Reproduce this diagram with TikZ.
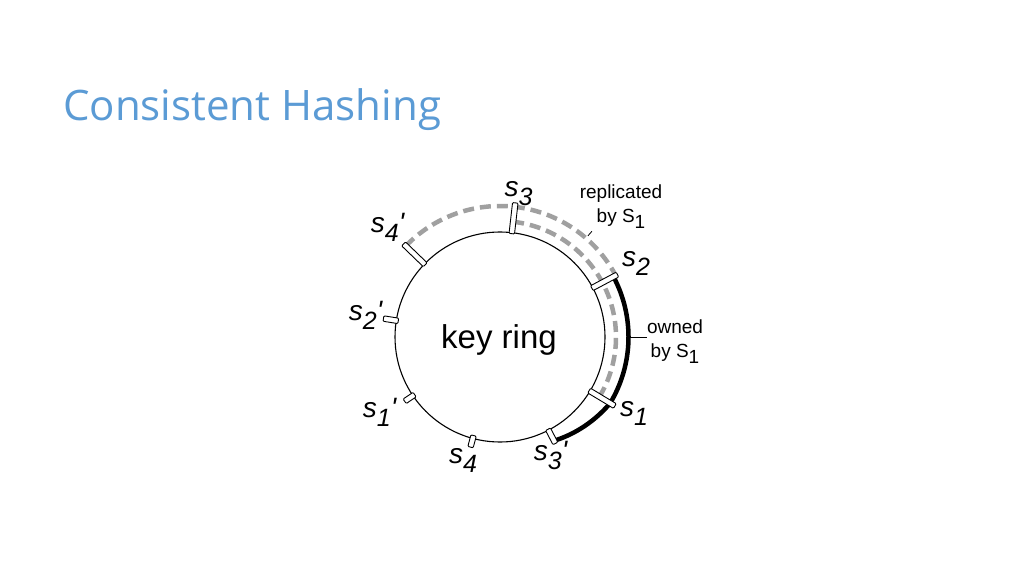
\documentclass[tikz,border=0pt]{standalone}
\usepackage{fontspec}
\setmainfont{Liberation Sans}
\newfontfamily\titlefont{Open Sans}
\usepackage{tikz}
\usetikzlibrary{calc}
\definecolor{titleblue}{RGB}{91, 155, 213}
\definecolor{replgray}{RGB}{160, 160, 160}
\newcommand{\srvlabel}[2]{\textit{s\raisebox{-9pt}{\fontsize{25}{25}\selectfont #1}#2}}
\newcommand{\bysone}{by S\raisebox{-6pt}{1}}
\tikzset{
    postick/.style={rectangle, rounded corners=1pt, draw, fill=white, line width=0.9pt, minimum height=5.5, inner sep=0},
    srv/.style={font=\fontsize{28}{30}\selectfont, inner sep=0},
    annot/.style={font=\fontsize{19}{23.5}\selectfont, align=center, inner sep=0},
    replarc/.style={draw=replgray, line width=4.5pt, dash pattern=on 11pt off 6pt},
    ownarc/.style={draw=black, line width=4.5pt}
}

\begin{document}
\begin{tikzpicture}[x=1pt, y=1pt]
    \useasboundingbox[fill=white] (0,0) rectangle (1024,576);

    \node[anchor=base west, text=titleblue, font=\titlefont\fontsize{42}{50}\selectfont, inner sep=0] (title) at (63,455) {Consistent Hashing};

    \node[circle, draw, line width=1.1pt, minimum size=210, inner sep=0] (ring) at (500,239) {};
    \node[font=\fontsize{33}{36}\selectfont, inner sep=0] (keyring) at (499,236) {key ring};

    % replicated range (dashed) and owned range (solid)
    \begin{scope}[shift={(ring.center)}]
        \draw[replarc] (136:131) arc[start angle=136, end angle=29, radius=131];
        \draw[replarc] (83.5:116) arc[start angle=83.5, end angle=-31, radius=116];
        \draw[ownarc] (28:128.5) arc[start angle=28, end angle=-31, radius=128.5]
            -- plot[domain=-31:-62.5, samples=25] (\x:{128.5-11.5*(-31-\x)/31.5});
    \end{scope}

    % token markers
    \node[postick, minimum width=31, rotate=83.5] (t3) at ($(ring.center)+(83.5:119.5)$) {};
    \node[postick, minimum width=30, rotate=136] (t4p) at ($(ring.center)+(136:119)$) {};
    \node[postick, minimum width=15, rotate=171] (t2p) at ($(ring.center)+(171:110.5)$) {};
    \node[postick, minimum width=12, rotate=-146] (t1p) at ($(ring.center)+(-146:109)$) {};
    \node[postick, minimum width=12, rotate=-105] (t4) at ($(ring.center)+(-105:108)$) {};
    \node[postick, minimum width=16, rotate=-62.5] (t3p) at ($(ring.center)+(-62.5:112)$) {};
    \node[postick, minimum width=30, rotate=-31] (t1) at ($(ring.center)+(-31:119)$) {};
    \node[postick, minimum width=29, rotate=28] (t2) at ($(ring.center)+(28:118.5)$) {};

    \node[srv] (s3) at (518.5,382) {\srvlabel{3}{}};
    \node[srv] (s4p) at (388,349) {\srvlabel{4}{\textquotesingle}};
    \node[srv] (s2p) at (366,261) {\srvlabel{2}{\textquotesingle}};
    \node[srv] (s1p) at (380,164) {\srvlabel{1}{\textquotesingle}};
    \node[srv] (s4) at (463,116) {\srvlabel{4}{}};
    \node[srv] (s3p) at (551,121) {\srvlabel{3}{\textquotesingle}};
    \node[srv] (s1) at (634,163) {\srvlabel{1}{}};
    \node[srv] (s2) at (636,313) {\srvlabel{2}{}};

    \node[annot] (repl) at (621,369.5) {replicated\\\bysone};
    \node[annot] (owned) at (675,234.5) {owned\\\bysone};

    \coordinate (replfoot) at ($(ring.center)+(49:134)$);
    \coordinate (repltip) at ($(ring.center)+(49:140)$);
    \draw[line width=0.8pt] (replfoot) -- (repltip);
    \coordinate (ownfoot) at ($(ring.center)+(0:130)$);
    \draw[line width=0.8pt] (ownfoot) -- (ownfoot -| owned.west);
\end{tikzpicture}
\end{document}
